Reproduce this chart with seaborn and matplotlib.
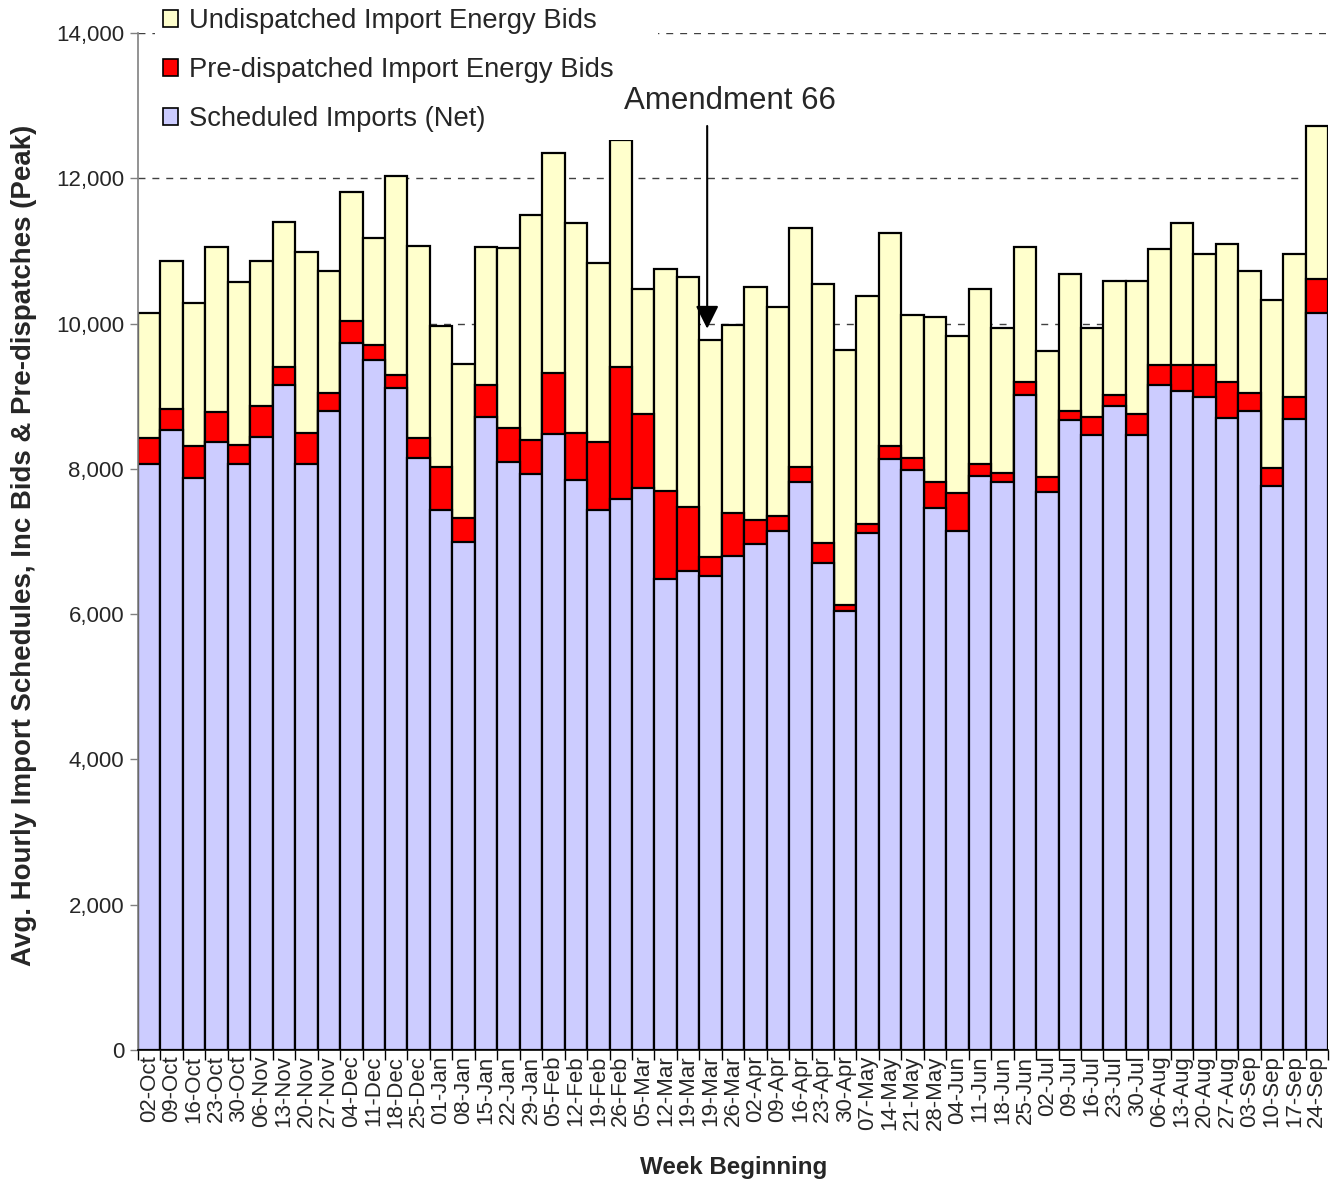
import numpy as np
import pandas as pd
import matplotlib
matplotlib.use("Agg")
import matplotlib.pyplot as plt
import seaborn as sns
from matplotlib.patches import Patch
from matplotlib.ticker import FuncFormatter

weeks = ["02-Oct", "09-Oct", "16-Oct", "23-Oct", "30-Oct", "06-Nov", "13-Nov", "20-Nov",
         "27-Nov", "04-Dec", "11-Dec", "18-Dec", "25-Dec", "01-Jan", "08-Jan", "15-Jan",
         "22-Jan", "29-Jan", "05-Feb", "12-Feb", "19-Feb", "26-Feb", "05-Mar", "12-Mar",
         "19-Mar", "19-Mar", "26-Mar", "02-Apr", "09-Apr", "16-Apr", "23-Apr", "30-Apr",
         "07-May", "14-May", "21-May", "28-May", "04-Jun", "11-Jun", "18-Jun", "25-Jun",
         "02-Jul", "09-Jul", "16-Jul", "23-Jul", "30-Jul", "06-Aug", "13-Aug", "20-Aug",
         "27-Aug", "03-Sep", "10-Sep", "17-Sep", "24-Sep"]

scheduled = [8070, 8530, 7870, 8370, 8070, 8440, 9150, 8070, 8800, 9730, 9500, 9110, 8150,
             7430, 7000, 8710, 8100, 7930, 8480, 7850, 7430, 7590, 7730, 6480, 6590, 6530,
             6800, 6970, 7150, 7820, 6710, 6040, 7120, 8130, 7990, 7460, 7150, 7900, 7820,
             9020, 7680, 8670, 8460, 8870, 8460, 9160, 9070, 8990, 8700, 8800, 7770, 8680,
             10140]

predispatched = [350, 300, 440, 410, 260, 420, 250, 420, 240, 300, 200, 180, 270,
                 590, 330, 440, 460, 470, 840, 640, 940, 1810, 1020, 1220, 880, 250,
                 590, 330, 200, 210, 270, 90, 120, 180, 160, 360, 520, 170, 120,
                 170, 210, 120, 260, 150, 300, 270, 360, 440, 490, 250, 240, 310,
                 470]

undispatched = [1720, 2030, 1980, 2270, 2240, 2000, 2000, 2490, 1690, 1780, 1480, 2740, 2650,
                1950, 2110, 1910, 2480, 3090, 3030, 2900, 2470, 3130, 1720, 3050, 3170, 2990,
                2590, 3200, 2880, 3280, 3570, 3500, 3140, 2940, 1970, 2270, 2160, 2400, 2000,
                1860, 1730, 1890, 1220, 1560, 1820, 1590, 1960, 1530, 1910, 1680, 2310, 1970,
                2110]

series_labels = ["Undispatched Import Energy Bids",
                 "Pre-dispatched Import Energy Bids",
                 "Scheduled Imports (Net)"]
series_colors = ["#FFFFCC", "#FF0000", "#CCCCFF"]

sns.set_theme(style="white")
plt.rcParams['font.family'] = ['Liberation Sans', 'DejaVu Sans']

W, H = 1336, 1184
fig = plt.figure(figsize=(W / 100, H / 100), dpi=100)
ax = fig.add_axes([138 / W, 1 - 1050 / H, 1190 / W, 1017 / H])

pos = np.arange(len(weeks))
sched = np.array(scheduled, dtype=float)
pre_top = sched + np.array(predispatched, dtype=float)
total = pre_top + np.array(undispatched, dtype=float)
df = pd.DataFrame({"pos": pos, "total": total, "pre": pre_top, "sched": sched})

for col, color in zip(["total", "pre", "sched"], series_colors):
    sns.barplot(data=df, x="pos", y=col, color=color, saturation=1, width=1.0,
                edgecolor="black", linewidth=1.6, errorbar=None, ax=ax, zorder=2)

ax.set_xlim(-0.5, len(weeks) - 0.5)
ax.set_ylim(0, 14000)
ax.set_yticks(np.arange(0, 14001, 2000))
ax.yaxis.set_major_formatter(FuncFormatter(lambda v, p: f"{int(v):,}"))
ax.yaxis.grid(True, linestyle=(0, (5, 5)), color="#404040", linewidth=1.0)
ax.xaxis.grid(False)
ax.set_axisbelow(True)

ax.set_xticks(pos)
ax.set_xticklabels(weeks, rotation=90, fontsize=16)
ax.set_xticks(np.arange(-0.5, len(weeks), 1.0), minor=True)
ax.tick_params(axis="x", which="major", length=0, pad=4)
ax.tick_params(axis="x", which="minor", length=7, width=1, color="black", direction="out", bottom=True)
ax.tick_params(axis="y", which="major", length=6, width=1, color="#808080", direction="out",
               left=True, labelsize=16, pad=4)

for s in ["top", "right"]:
    ax.spines[s].set_visible(False)
ax.spines["left"].set_color("#808080")
ax.spines["left"].set_linewidth(1.2)
ax.spines["bottom"].set_color("black")
ax.spines["bottom"].set_linewidth(1.2)

ax.set_ylabel("Avg. Hourly Import Schedules, Inc Bids & Pre-dispatches (Peak)",
              fontsize=19.9, fontweight="bold")
ax.yaxis.set_label_coords(-0.085, 0.4966)
ax.set_xlabel("Week Beginning", fontsize=17.4, fontweight="bold")
ax.xaxis.set_label_coords(0.5008, -0.104)

handles = [Patch(facecolor=c, edgecolor="black", linewidth=1.2) for c in series_colors]
leg = ax.legend(handles, series_labels, loc="upper left", mode="expand",
                bbox_to_anchor=(155 / W, 0.0, 503 / W, 1.0), bbox_transform=fig.transFigure,
                fontsize=19.7, frameon=True, handlelength=0.55, handleheight=0.55,
                handletextpad=0.4, labelspacing=0.84, borderpad=0.3, borderaxespad=0)
leg.get_frame().set_facecolor("white")
leg.get_frame().set_edgecolor("none")
leg.get_frame().set_alpha(1.0)
leg.set_zorder(5)

ax.annotate("", xy=(24.85, 9930), xytext=(24.85, 12720),
            arrowprops=dict(arrowstyle="-|>,head_length=0.5,head_width=0.25",
                            color="black", lw=1.5, mutation_scale=28,
                            shrinkA=0, shrinkB=0), zorder=6)
ax.text(25.85, 13060, "Amendment 66", ha="center", va="center", fontsize=22.5, zorder=6)

fig.savefig("out.png", dpi=100)
